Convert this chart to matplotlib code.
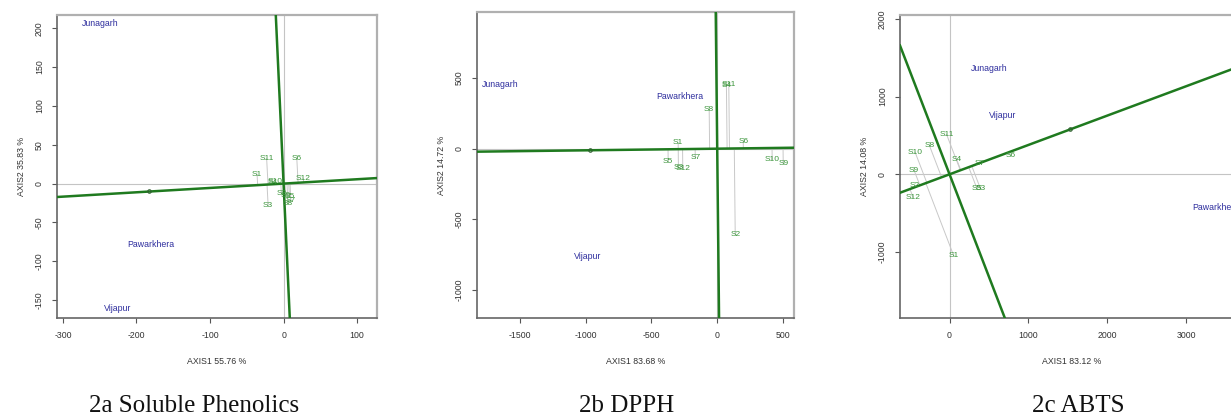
import matplotlib
matplotlib.use("Agg")
import matplotlib.pyplot as plt
import numpy as np

plt.rcParams['font.family'] = ['Liberation Sans', 'DejaVu Sans']

# ---------------- data ----------------
env_names = ["Junagarh", "Pawarkhera", "Vijapur"]

# Panel a: Soluble Phenolics
a_env_x = [-249, -181, -226]
a_env_y = [206, -78, -161]
a_samples = ["S11", "S6", "S1", "S12", "S4", "S10", "S2", "S9", "S5", "S7", "S8", "S3"]
a_sx = [-23, 18, -36, 27, -15, -12, -3, 3, 8, 10, 6, -21]
a_sy = [32, 32, 12, 6, 2, 3, -13, -15, -17, -22, -25, -28]
a_aea_slope = 0.056
a_perp_slope = -20.5
a_mark = (-183, -10)
a_xlim = (-308, 127)
a_ylim = (-173, 217)
a_xticks = [-300, -200, -100, 0, 100]
a_yticks = [-150, -100, -50, 0, 50, 100, 150, 200]
a_xlabel = "AXIS1 55.76 %"
a_ylabel = "AXIS2 35.83 %"
a_title = "2a Soluble Phenolics"

# Panel b: DPPH
b_env_x = [-1651, -282, -989]
b_env_y = [452, 368, -764]
b_samples = ["S11", "S4", "S8", "S1", "S6", "S5", "S7", "S3", "S12", "S10", "S9", "S2"]
b_sx = [88, 70, -61, -297, 198, -373, -167, -295, -262, 418, 502, 137]
b_sy = [452, 446, 276, 42, 50, -92, -64, -134, -138, -78, -106, -608]
b_aea_slope = 0.0116
b_perp_slope = -86.0
b_mark = (-964, -11)
b_xlim = (-1827, 584)
b_ylim = (-1198, 967)
b_xticks = [-1500, -1000, -500, 0, 500]
b_yticks = [-1000, -500, 0, 500]
b_xlabel = "AXIS1 83.68 %"
b_ylabel = "AXIS2 14.72 %"
b_title = "2b DPPH"

# Panel c: ABTS
c_env_x = [500, 3370, 667]
c_env_y = [1364, -425, 759]
c_samples = ["S11", "S10", "S8", "S4", "S9", "S2", "S12", "S7", "S6", "S5", "S3", "S1"]
c_sx = [-38, -436, -256, 90, -449, -440, -462, 385, 769, 346, 390, 51]
c_sy = [515, 283, 373, 193, 51, -150, -296, 141, 245, -180, -180, -1043]
c_aea_slope = 0.378
c_perp_slope = -2.64
c_mark = (1526, 577)
c_xlim = (-628, 3720)
c_ylim = (-1850, 2051)
c_xticks = [0, 1000, 2000, 3000]
c_yticks = [-1000, 0, 1000, 2000]
c_xlabel = "AXIS1 83.12 %"
c_ylabel = "AXIS2 14.08 %"
c_title = "2c ABTS"

ENV_COLOR = "#2e2e9e"
SAMP_COLOR = "#3c963c"
LINE_COLOR = "#1f7a1f"
FS = 6.3

W, H = 1231, 418
fig = plt.figure(figsize=(W / 100, H / 100), dpi=100)
fig.patch.set_facecolor("white")


def make_axes(l, r, t, b):
    return fig.add_axes([l / W, 1 - b / H, (r - l) / W, (b - t) / H])


def draw_panel(ax, env_x, env_y, sx, sy, samples, aea_slope, perp_slope, mark,
               xlim, ylim, xticks, yticks, xlabel, ylabel):
    ax.set_xlim(*xlim)
    ax.set_ylim(*ylim)
    ax.axhline(0, color="#c4c4c4", lw=0.8, zorder=1)
    ax.axvline(0, color="#c4c4c4", lw=0.8, zorder=1)
    # projections of samples onto average-environment axis
    s = aea_slope
    for x, y in zip(sx, sy):
        t = (x + s * y) / (1 + s * s)
        ax.plot([x, t], [y, t * s], color="#c8c8c8", lw=0.7, zorder=2)
    ax.axline((0, 0), slope=aea_slope, color=LINE_COLOR, lw=1.8, zorder=3)
    ax.axline((0, 0), slope=perp_slope, color=LINE_COLOR, lw=1.8, zorder=3)
    ax.plot([mark[0]], [mark[1]], marker="o", ms=2.5, mfc="none",
            mec="#2f5f2f", mew=0.8, zorder=4)
    for name, x, y in zip(env_names, env_x, env_y):
        ax.text(x, y, name, color=ENV_COLOR, fontsize=FS, ha="center",
                va="center", zorder=5)
    for name, x, y in zip(samples, sx, sy):
        ax.text(x, y, name, color=SAMP_COLOR, fontsize=FS - 0.3, ha="center",
                va="center", zorder=5)
    ax.set_xticks(xticks)
    ax.set_yticks(yticks)
    ax.set_xticklabels([str(v) for v in xticks], fontsize=FS, color="#333333")
    ax.set_yticklabels([str(v) for v in yticks], fontsize=FS, color="#333333",
                       rotation=90, va="center")
    ax.tick_params(length=3.5, width=0.8, color="#555555", pad=6)
    ax.set_xlabel(xlabel, fontsize=FS, color="#333333", labelpad=12)
    ax.set_ylabel(ylabel, fontsize=FS, color="#333333", labelpad=6)
    for side in ("top", "right"):
        ax.spines[side].set_color("#b0b0b0")
        ax.spines[side].set_linewidth(1.6)
    for side in ("left", "bottom"):
        ax.spines[side].set_color("#666666")
        ax.spines[side].set_linewidth(1.2)


axa = make_axes(57, 377, 15, 318)
draw_panel(axa, a_env_x, a_env_y, a_sx, a_sy, a_samples, a_aea_slope,
           a_perp_slope, a_mark, a_xlim, a_ylim, a_xticks, a_yticks,
           a_xlabel, a_ylabel)

axb = make_axes(477, 794, 12, 318)
draw_panel(axb, b_env_x, b_env_y, b_sx, b_sy, b_samples, b_aea_slope,
           b_perp_slope, b_mark, b_xlim, b_ylim, b_xticks, b_yticks,
           b_xlabel, b_ylabel)

axc = make_axes(900, 1243, 15, 318)
draw_panel(axc, c_env_x, c_env_y, c_sx, c_sy, c_samples, c_aea_slope,
           c_perp_slope, c_mark, c_xlim, c_ylim, c_xticks, c_yticks,
           c_xlabel, c_ylabel)

# captions
for title, xc in ((a_title, 194), (b_title, 627), (c_title, 1078)):
    fig.text(xc / W, 1 - 406 / H, title, fontsize=18, ha="center",
             va="center", family=["Liberation Serif", "DejaVu Serif"],
             color="#111111")

fig.savefig("out.png", dpi=100, facecolor="white")
